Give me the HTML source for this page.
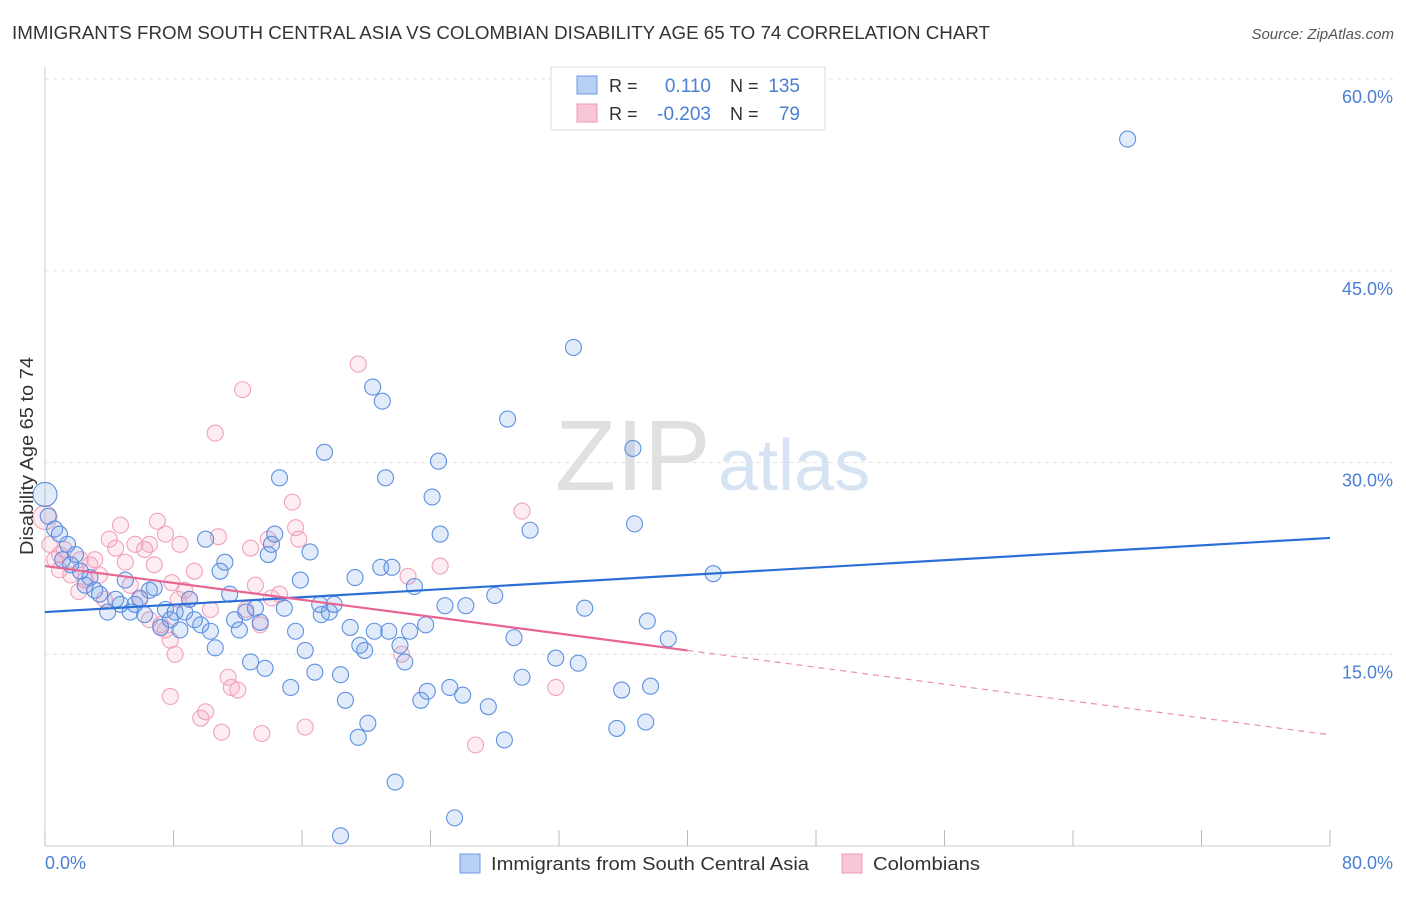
<!DOCTYPE html>
<html><head><meta charset="utf-8"><style>
body{margin:0;background:#fff;font-family:"Liberation Sans",sans-serif;}
svg text{font-family:"Liberation Sans",sans-serif;}
</style></head><body>
<svg id="chart" width="1406" height="892">
<text x="12" y="39" font-size="18" fill="#333" textLength="978" lengthAdjust="spacingAndGlyphs">IMMIGRANTS FROM SOUTH CENTRAL ASIA VS COLOMBIAN DISABILITY AGE 65 TO 74 CORRELATION CHART</text>
<text x="1394" y="39" font-size="15" fill="#555" font-style="italic" text-anchor="end">Source: ZipAtlas.com</text>
<g id="grid"></g>
<text x="555" y="490" font-size="100" fill="#e0e0e0" font-family="Liberation Serif">ZIP</text>
<text x="718" y="490" font-size="72" fill="#d6e3f3">atlas</text>
<g id="ticks"></g>
<g id="pink"></g>
<g id="blue"></g>
<g id="lines"></g>
<text x="33" y="456" font-size="18" fill="#333" text-anchor="middle" textLength="198" lengthAdjust="spacingAndGlyphs" transform="rotate(-90 33 456)">Disability Age 65 to 74</text>
<text x="45" y="869" font-size="18" fill="#4a7fd4">0.0%</text>
<text x="1393" y="869" font-size="18" fill="#4a7fd4" text-anchor="end">80.0%</text>
<g>
<rect x="551" y="67" width="274" height="63" fill="#fff" stroke="#ddd"/>
<rect x="577" y="76" width="20" height="18" fill="#b8d0f4" stroke="#6d9be3"/>
<rect x="577" y="104" width="20" height="18" fill="#f8c6d4" stroke="#ee9bb5"/>
<text x="609" y="92" font-size="18" fill="#333">R =</text>
<text x="711" y="92" font-size="19" fill="#4a7fd4" text-anchor="end">0.110</text>
<text x="730" y="92" font-size="18" fill="#333">N =</text>
<text x="800" y="92" font-size="19" fill="#4a7fd4" text-anchor="end">135</text>
<text x="609" y="120" font-size="18" fill="#333">R =</text>
<text x="711" y="120" font-size="19" fill="#4a7fd4" text-anchor="end">-0.203</text>
<text x="730" y="120" font-size="18" fill="#333">N =</text>
<text x="800" y="120" font-size="19" fill="#4a7fd4" text-anchor="end">79</text>
</g>
<g>
<rect x="460" y="854" width="20" height="19" fill="#b8d0f4" stroke="#6d9be3"/>
<text x="491" y="870" font-size="18" fill="#333" textLength="318" lengthAdjust="spacingAndGlyphs">Immigrants from South Central Asia</text>
<rect x="842" y="854" width="20" height="19" fill="#f8c6d4" stroke="#ee9bb5"/>
<text x="873" y="870" font-size="18" fill="#333" textLength="107" lengthAdjust="spacingAndGlyphs">Colombians</text>
</g>
</svg>
<script>
const yTicks=[15,30,45,60];
const yTickLabels=["15.0%","30.0%","45.0%","60.0%"];
const xTicks=[0,8,16,24,32,40,48,56,64,72,80];
const blueX=[0.0,0.2,0.6,0.9,1.4,1.9,1.1,1.6,2.2,2.8,2.5,3.1,3.4,3.9,4.4,4.7,5.0,5.3,5.6,5.9,6.2,6.5,6.8,7.2,7.5,7.8,8.1,8.4,8.7,9.0,9.3,9.7,10.0,10.3,10.6,10.9,11.2,11.5,11.8,12.1,12.5,12.8,13.1,13.4,13.7,13.9,14.1,14.3,14.6,14.9,15.3,15.6,15.9,16.2,16.5,16.8,17.1,17.2,17.4,17.7,18.0,18.4,18.7,19.0,19.3,19.5,19.6,19.9,20.1,20.4,20.5,20.9,21.0,21.2,21.4,21.6,21.8,22.1,22.4,22.7,23.0,23.4,23.7,23.8,24.1,24.5,24.6,24.9,25.2,25.5,26.0,26.2,27.6,28.0,28.6,28.8,29.2,29.7,30.2,31.8,32.9,33.2,33.6,35.9,35.6,36.6,36.7,37.4,37.5,37.7,38.8,41.6,67.4,18.4];
const blueY=[27.5,25.8,24.8,24.4,23.6,22.8,22.4,22.0,21.5,21.0,20.4,20.0,19.7,18.3,19.3,18.9,20.8,18.3,18.9,19.4,18.1,20.0,20.2,17.1,18.5,17.7,18.3,16.9,18.3,19.3,17.7,17.3,24.0,16.8,15.5,21.5,22.2,19.7,17.7,16.9,18.3,14.4,18.6,17.5,13.9,22.8,23.6,24.4,28.8,18.6,12.4,16.8,20.8,15.3,23.0,13.6,18.9,18.1,30.8,18.3,18.9,13.4,11.4,17.1,21.0,8.5,15.7,15.3,9.6,35.9,16.8,21.8,34.8,28.8,16.8,21.8,5.0,15.7,14.4,16.8,20.3,11.4,17.3,12.1,27.3,30.1,24.4,18.8,12.4,2.2,11.8,18.8,10.9,19.6,8.3,33.4,16.3,13.2,24.7,14.7,39.0,14.3,18.6,12.2,9.2,31.1,25.2,9.7,17.6,12.5,16.2,21.3,55.3,0.8];
const pinkX=[0.0,0.3,0.6,0.9,1.2,1.6,2.1,2.5,3.1,3.4,4.0,4.4,4.7,5.0,5.3,5.6,5.9,6.2,6.5,6.8,7.0,7.2,7.5,7.8,8.1,7.9,8.4,8.7,9.0,9.3,9.7,10.0,10.3,10.6,10.8,11.0,11.4,11.6,12.0,12.3,12.5,12.8,13.1,13.4,13.5,13.9,14.1,14.6,15.4,15.6,15.8,16.2,19.5,22.6,24.6,26.8,29.7,31.8,7.8,8.3,3.7,2.8,2.2,0.9,6.5,7.5,22.2];
const pinkY=[25.7,23.6,22.4,22.8,23.2,21.2,19.9,20.8,22.4,21.2,24.0,23.3,25.1,22.2,20.4,23.6,19.3,23.2,23.6,22.0,25.4,17.3,24.4,16.1,15.0,20.6,23.6,20.0,19.3,21.5,10.0,10.5,18.5,32.3,24.2,8.9,13.2,12.4,12.2,35.7,18.5,23.3,20.4,17.3,8.8,24.0,19.4,19.7,26.9,24.9,24.0,9.3,37.7,21.1,21.9,7.9,26.2,12.4,11.7,19.3,19.3,22.0,22.4,21.6,17.7,16.9,15.0];
const blueTrend=[18.3,24.1];
const pinkTrend=[21.9,8.7];
const pinkSolidEnd=40;

const X0=45,X1=1330,Y0=846,YTOP=79;
const sx=v=>X0+(v/80)*(X1-X0);
const sy=v=>Y0-(v/60)*(Y0-YTOP);
const NS="http://www.w3.org/2000/svg";
function mk(tag,attrs,parent){const e=document.createElementNS(NS,tag);for(const k in attrs)e.setAttribute(k,attrs[k]);parent.appendChild(e);return e;}
const grid=document.getElementById('grid');
yTicks.forEach((t,i)=>{
  const l=mk('line',{x1:X0,x2:1394,y1:sy(t),y2:sy(t),stroke:'#e2e2e2','stroke-dasharray':'4,4'},grid);
  
  
  const tx=mk('text',{x:1393,y:sy(t)+24,'font-size':18,fill:'#4a7fd4','text-anchor':'end'},grid);
  tx.textContent=yTickLabels[i];
  
  
});
const ticks=document.getElementById('ticks');
const ax=mk('line',{x1:X0,x2:X1,y1:Y0,y2:Y0,stroke:'#ccc'},ticks);


const ay=mk('line',{x1:X0,x2:X0,y1:67,y2:Y0,stroke:'#ccc'},ticks);


xTicks.forEach(t=>{
  const l=mk('line',{x1:sx(t),x2:sx(t),y1:Y0,y2:Y0-16,stroke:'#bbb'},ticks);
  
  
});
const pg=document.getElementById('pink');
pinkX.forEach((x,i)=>{
  const c=mk('circle',{cx:sx(x),cy:sy(pinkY[i]),r:i===0?12:8,fill:'rgba(244,160,185,0.2)',stroke:'#f0a3bb','stroke-width':1.1},pg);
  
  
});
const bg=document.getElementById('blue');
blueX.forEach((x,i)=>{
  const c=mk('circle',{cx:sx(x),cy:sy(blueY[i]),r:i===0?12:8,fill:'rgba(110,155,230,0.2)',stroke:'#5d90e0','stroke-width':1.1},bg);
  
  
});
const lg=document.getElementById('lines');
const bl=mk('line',{x1:sx(0),y1:sy(blueTrend[0]),x2:sx(80),y2:sy(blueTrend[1]),stroke:'#2b6fd6','stroke-width':2.2},lg);


const pAt=x=>pinkTrend[0]+(pinkTrend[1]-pinkTrend[0])*x/80;
const pl=mk('line',{x1:sx(0),y1:sy(pAt(0)),x2:sx(pinkSolidEnd),y2:sy(pAt(pinkSolidEnd)),stroke:'#e86592','stroke-width':2.2},lg);


const pd=mk('line',{x1:sx(pinkSolidEnd),y1:sy(pAt(pinkSolidEnd)),x2:sx(80),y2:sy(pAt(80)),stroke:'#ec8fae','stroke-width':1.2,'stroke-dasharray':'6,5'},lg);


</script>
</body></html>
